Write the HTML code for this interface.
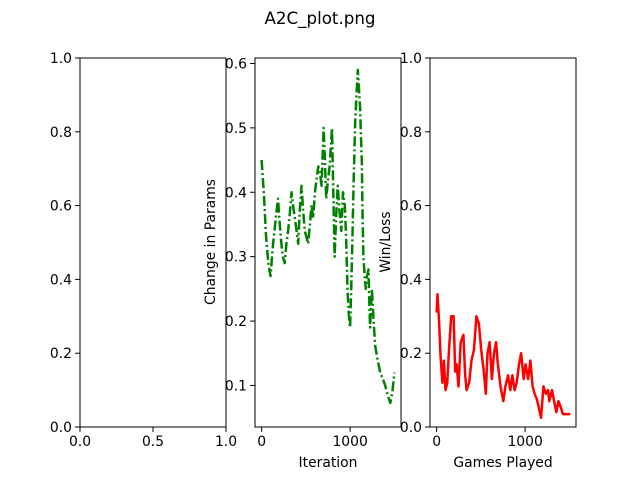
<!DOCTYPE html>
<html><head><meta charset="utf-8"><style>
body{margin:0;background:#fff}
svg{display:block;font-family:"DejaVu Sans","Liberation Sans",sans-serif}
</style></head><body>
<svg id="fig" width="640" height="480" viewBox="0 0 640 480" xmlns="http://www.w3.org/2000/svg">
<rect width="640" height="480" fill="#fff"/>
<text x="320" y="24" font-size="16.7" text-anchor="middle">A2C_plot.png</text>
</svg>
<script>
// Middle chart data (Change in Params)
const paramIters = [0,25,50,75,100,129,160,185,205,223,240,261,280,299,320,337,355,375,395,413,430,450,470,488,507,526,545,564,583,602,620,640,660,678,690,700,715,730,750,768,782,795,810,825,842,860,880,900,920,940,955,970,985,1000,1012,1025,1040,1057,1072,1087,1100,1113,1122,1132,1140,1150,1165,1177,1192,1208,1217,1226,1236,1246,1265,1284,1310,1340,1370,1397,1425,1454,1478,1500];
const paramValues = [0.45,0.40,0.33,0.29,0.27,0.32,0.36,0.39,0.35,0.32,0.30,0.29,0.32,0.34,0.37,0.40,0.38,0.36,0.34,0.32,0.37,0.41,0.37,0.34,0.33,0.32,0.35,0.38,0.36,0.40,0.42,0.44,0.43,0.41,0.46,0.50,0.45,0.39,0.42,0.44,0.47,0.50,0.40,0.30,0.36,0.41,0.37,0.34,0.40,0.38,0.33,0.25,0.21,0.19,0.25,0.32,0.42,0.51,0.55,0.59,0.56,0.53,0.49,0.45,0.37,0.30,0.27,0.25,0.27,0.28,0.23,0.19,0.22,0.25,0.20,0.16,0.14,0.12,0.11,0.10,0.085,0.073,0.09,0.12];
// Right chart data (Win/Loss)
const gameIters = [0,10,27,45,65,82,100,120,137,165,192,210,226,247,272,302,323,339,367,394,422,449,478,504,533,556,575,598,624,648,672,688,722,753,777,808,832,856,881,905,931,955,984,1005,1034,1060,1084,1107,1133,1157,1181,1207,1236,1260,1273,1304,1328,1354,1377,1401,1427,1451,1477,1511];
const gameValues = [0.31,0.36,0.29,0.19,0.12,0.18,0.10,0.12,0.20,0.30,0.30,0.15,0.17,0.11,0.23,0.25,0.14,0.10,0.12,0.18,0.21,0.30,0.28,0.21,0.15,0.09,0.20,0.23,0.13,0.20,0.23,0.18,0.11,0.07,0.11,0.14,0.10,0.14,0.10,0.12,0.17,0.20,0.13,0.17,0.13,0.18,0.11,0.09,0.075,0.05,0.025,0.11,0.09,0.10,0.07,0.10,0.07,0.04,0.07,0.055,0.035,0.035,0.035,0.035];
const leftXTicks=["0.0","0.5","1.0"], leftYTicks=["0.0","0.2","0.4","0.6","0.8","1.0"];
const midXTicks=[0,1000], midYTicks=[0.1,0.2,0.3,0.4,0.5,0.6];
const rightXTicks=[0,1000], rightYTicks=["0.0","0.2","0.4","0.6","0.8","1.0"];

const NS="http://www.w3.org/2000/svg";
const svg=document.getElementById('fig');
function el(tag,attrs,parent){const e=document.createElementNS(NS,tag);for(const k in attrs)e.setAttribute(k,attrs[k]);(parent||svg).appendChild(e);return e;}
function axes(name,x0,x1,y0,y1,xmin,xmax,ymin,ymax){
  const g=el('g',{});
  
  
  return {g,x0,x1,y0,y1,sx:v=>x0+(v-xmin)/(xmax-xmin)*(x1-x0),sy:v=>y1-(v-ymin)/(ymax-ymin)*(y1-y0)};
}
function frame(a){const r=el('rect',{x:a.x0,y:a.y0,width:a.x1-a.x0,height:a.y1-a.y0,fill:'none',stroke:'#000','stroke-width':1},a.g);
  }
function xtick(a,v,label){const x=a.sx(v);el('line',{x1:x,x2:x,y1:a.y1,y2:a.y1+4.9,stroke:'#000'},a.g);
  const t=el('text',{x:x,y:a.y1+19,'font-size':13.9,'text-anchor':'middle'},a.g);t.textContent=label;
  }
function ytick(a,v,label){const y=a.sy(v);el('line',{x1:a.x0-4.9,x2:a.x0,y1:y,y2:y,stroke:'#000'},a.g);
  const t=el('text',{x:a.x0-8,y:y+5,'font-size':13.9,'text-anchor':'end'},a.g);t.textContent=label;
  }
function line(a,xs,ys,color,dash,name){const d=xs.map((x,i)=>(i?'L':'M')+a.sx(x).toFixed(1)+' '+a.sy(ys[i]).toFixed(1)).join(' ');
  const p=el('path',{d:d,fill:'none',stroke:color,'stroke-width':2.5,'stroke-linejoin':'round'},a.g);
  if(dash)p.setAttribute('stroke-dasharray',dash);
  }
function label(a,text,x,y,rot,name){const t=el('text',{x:x,y:y,'font-size':13.9,'text-anchor':'middle'},a.g);
  if(rot)t.setAttribute('transform','rotate(-90 '+x+' '+y+')');t.textContent=text;
  }

const L=axes('left-axes',80,226,58,427,0,1,0,1);
frame(L);
leftXTicks.forEach(s=>xtick(L,parseFloat(s),s));
leftYTicks.forEach(s=>ytick(L,parseFloat(s),s));

const M=axes('params-axes',255,401,58,427,-75,1575,0.0355,0.6085);
line(M,paramIters,paramValues,'#008000','10 3 2 3','params-line');
frame(M);
midXTicks.forEach(v=>xtick(M,v,String(v)));
midYTicks.forEach(v=>ytick(M,v,v.toFixed(1)));
label(M,'Iteration',328,467,false,'x-axis-title');
label(M,'Change in Params',215,242,true,'y-axis-title');

const R=axes('winloss-axes',430,576,58,427,-75,1575,0,1);
line(R,gameIters,gameValues,'#ff0000',null,'winloss-line');
frame(R);
rightXTicks.forEach(v=>xtick(R,v,String(v)));
rightYTicks.forEach(s=>ytick(R,parseFloat(s),s));
label(R,'Games Played',503,467,false,'x-axis-title');
label(R,'Win/Loss',390,242,true,'y-axis-title');
</script>
</body></html>
